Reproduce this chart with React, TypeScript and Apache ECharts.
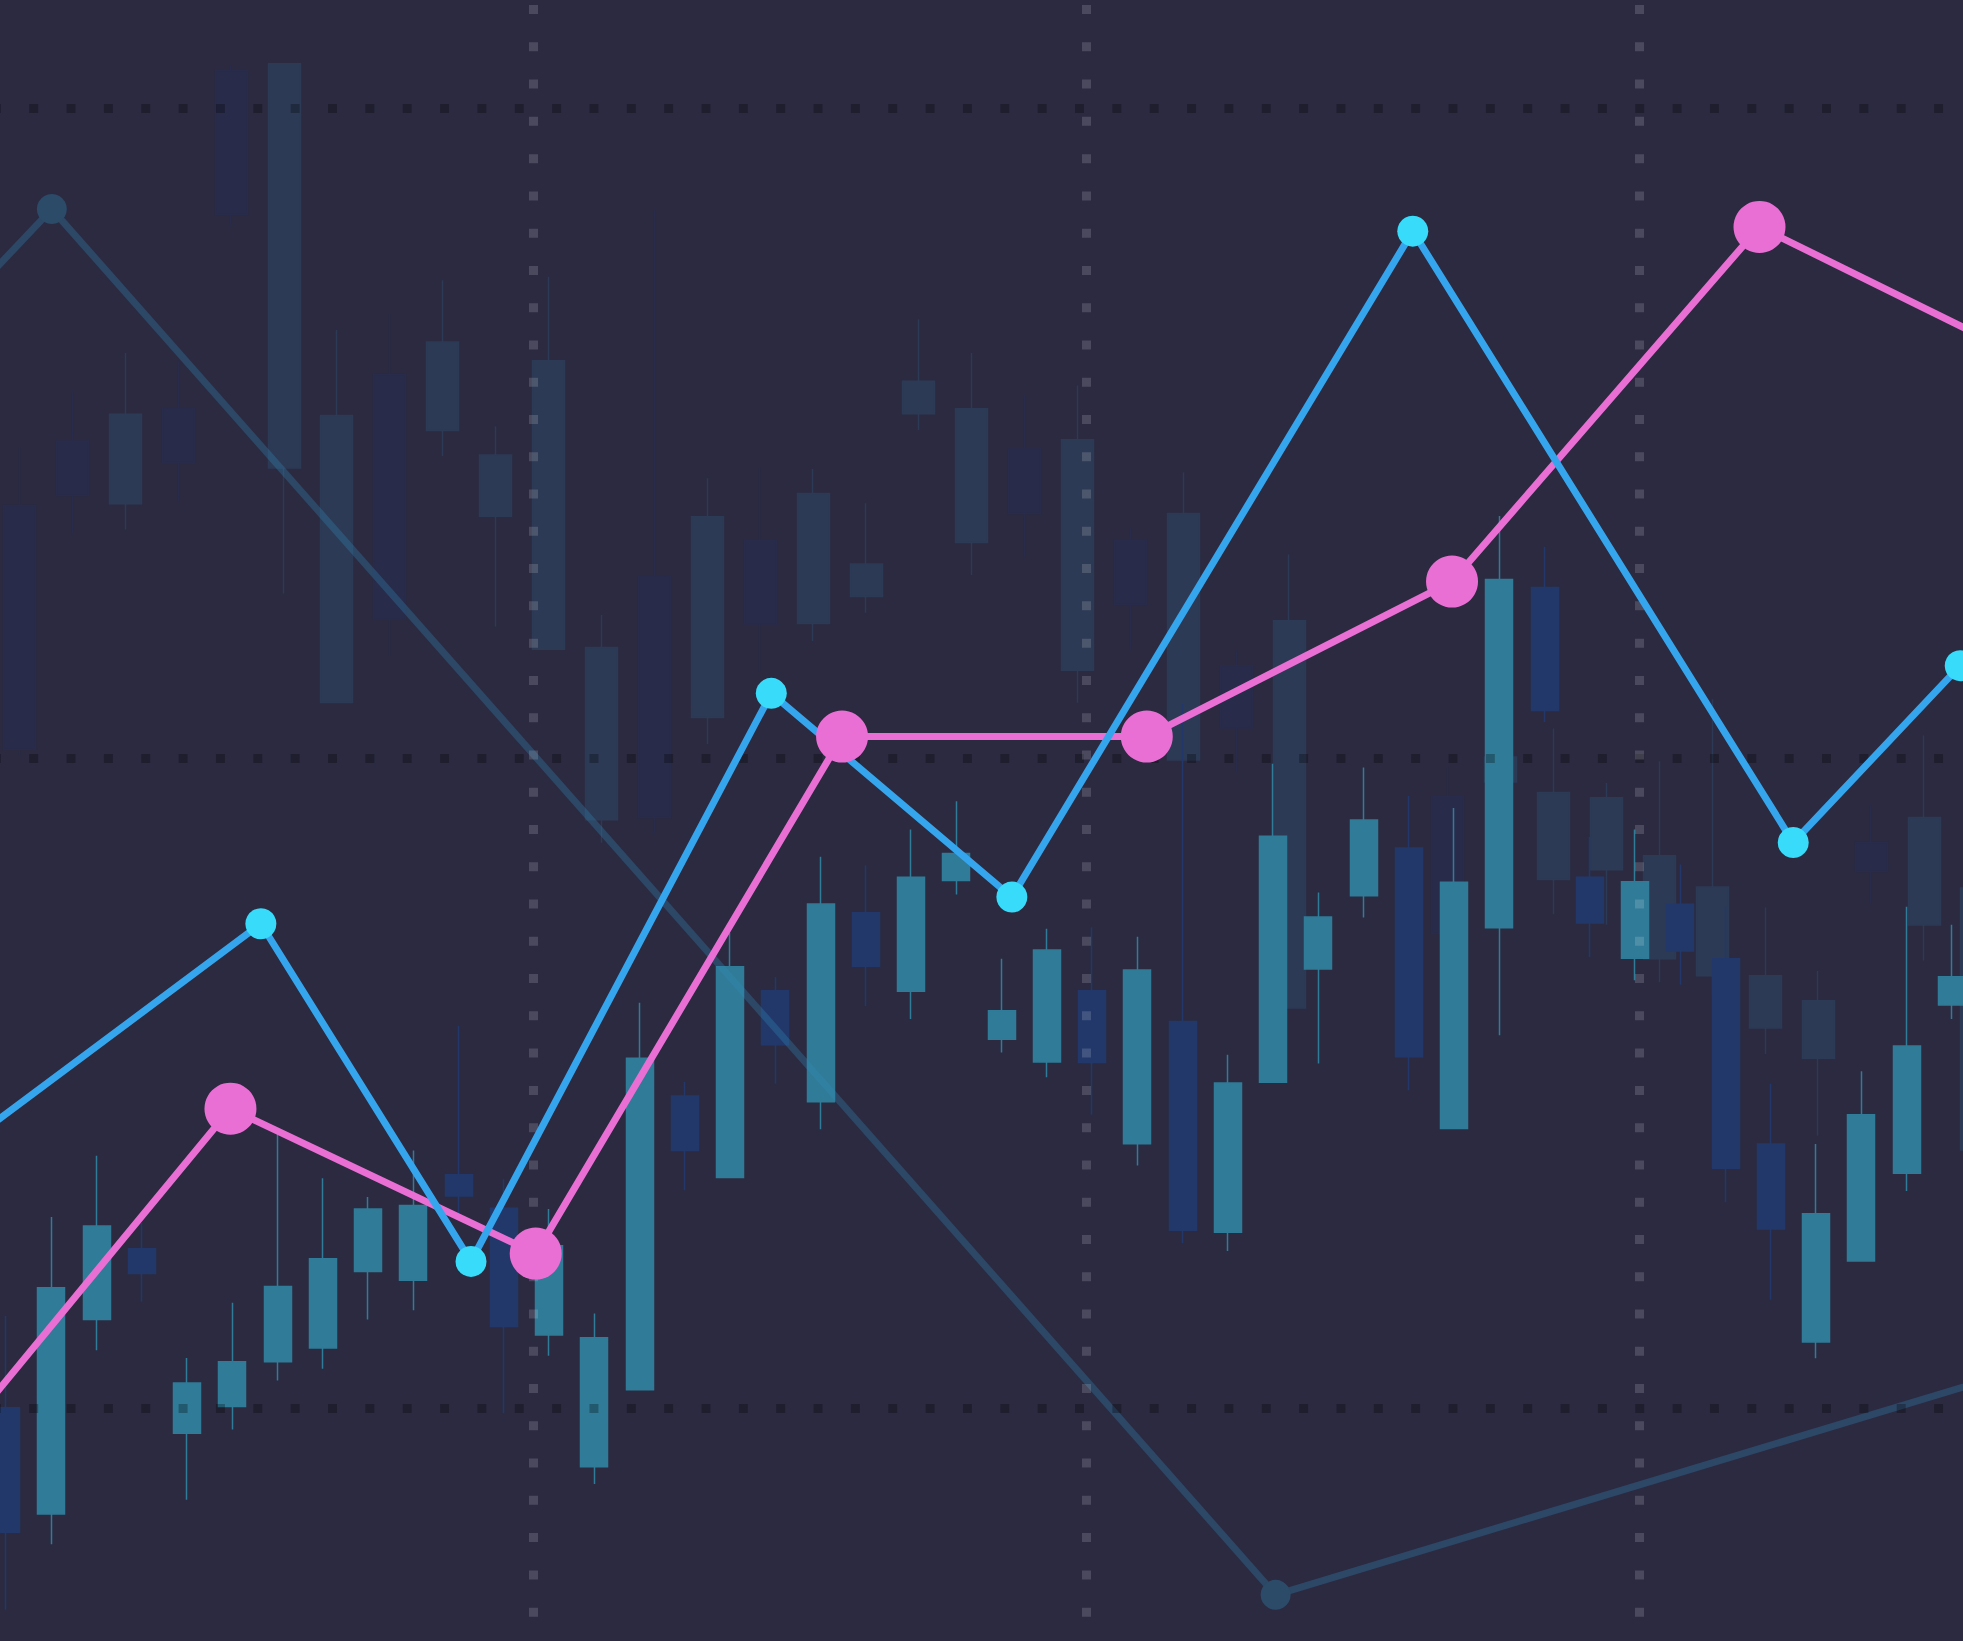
import React, { useEffect, useRef } from "react";
import * as echarts from "echarts";

const W = 1963;
const H = 1641;

// ---------- Foreground candles (open, close, low, high) ----------
const fgOpen = [20.01, 16.74, 22.72, 24.9, 19.22, 20.05, 21.42, 21.85, 24.2, 23.93, 27.18, 26.15, 22.25, 18.19, 20.56, 29.6, 27.09, 32.84, 29.42, 35.24, 32.82, 36.23, 31.35, 30.65, 32.84, 28.13, 31.89, 25.41, 30.02, 33.51, 35.76, 37.23, 28.6, 34.78, 45.25, 36.33, 33.84, 35.5, 33.82, 28.12, 22.03, 24.52, 27.22, 32.4];
const fgClose = [16.18, 23.7, 25.6, 24.14, 20.77, 21.42, 23.74, 24.59, 26.12, 26.23, 26.52, 22.51, 24.99, 22.16, 30.76, 27.92, 33.58, 31.18, 35.51, 33.59, 36.33, 37.06, 32.22, 34.09, 30.63, 33.48, 25.47, 30.0, 37.59, 35.11, 38.09, 30.81, 36.18, 45.49, 41.46, 34.92, 36.19, 34.06, 27.38, 25.51, 25.98, 29.02, 31.14, 33.27];
const fgLow = [13.79, 15.81, 21.78, 23.27, 17.18, 19.34, 20.85, 21.21, 22.72, 23.01, 25.84, 19.84, 21.61, 17.66, 20.56, 26.7, 27.09, 29.98, 28.58, 32.37, 31.97, 35.8, 30.94, 30.18, 29.02, 27.46, 25.07, 24.83, 30.02, 30.6, 35.09, 29.78, 28.6, 31.47, 41.11, 33.88, 33.16, 33.02, 26.33, 23.33, 21.53, 24.52, 26.68, 31.97];
const fgHigh = [22.83, 25.88, 27.76, 25.69, 21.54, 23.24, 28.42, 27.07, 26.49, 27.92, 31.76, 27.04, 26.12, 22.91, 32.47, 30.03, 34.62, 33.26, 36.96, 36.7, 37.8, 38.67, 33.82, 34.75, 34.79, 34.5, 41.66, 30.87, 39.82, 35.86, 39.71, 38.83, 38.46, 47.45, 46.5, 37.57, 37.8, 36.72, 35.43, 29.98, 28.12, 30.36, 35.42, 34.87];

// ---------- Background (faded) candles (open, close, low, high) ----------
const bgOpen = [47.77, 49.75, 47.82, 50.77, 61.15, 48.92, 41.71, 51.8, 50.08, 47.44, 43.35, 38.1, 45.6, 41.25, 46.7, 44.14, 44.97, 50.59, 46.63, 49.51, 42.7, 46.7, 39.94, 42.84, 32.31, null, null, 38.82, 39.26, 36.26, 36.56, 33.82, 33.3, 31.69, 30.76, 37.4, 34.86, 27.94];
const bgClose = [40.27, 48.08, 50.58, 49.1, 56.72, 61.36, 50.54, 44.28, 52.8, 49.32, 52.22, 43.4, 38.17, 47.42, 44.12, 48.14, 45.97, 51.59, 50.75, 47.52, 49.79, 44.72, 47.52, 40.92, 44.22, null, null, 34.61, 40.03, 38.94, 38.78, 36.99, 36.03, 33.3, 32.53, 36.51, 38.17, 36.0];
const bgLow = [40.09, 46.9, 47.03, 47.9, 56.4, 45.06, 41.71, 43.12, 49.29, 44.04, 43.35, 37.39, 37.69, 40.43, 42.67, 43.6, 44.47, 50.09, 45.63, 46.18, 41.7, 43.32, 39.94, 39.58, 32.31, null, null, 34.61, 38.7, 35.19, 34.87, 33.1, 32.69, 30.89, 28.38, 35.51, 33.77, 27.32];
const bgHigh = [49.57, 51.25, 52.46, 52.22, 61.32, 61.36, 53.17, 53.66, 54.7, 50.21, 54.81, 44.4, 56.86, 48.61, 48.92, 48.89, 47.84, 53.5, 52.46, 51.17, 51.46, 47.1, 48.79, 43.3, 46.26, null, null, 39.73, 40.4, 40.91, 39.23, 39.9, 41.81, 35.4, 33.45, 38.55, 40.69, 36.86];

// ---------- Lines ----------
const blueX = [-1, 5.07, 8.87, 14.3, 18.65, 25.9, 32.78, 35.8];
const blueY = [27.19, 34.9, 24.51, 41.99, 35.72, 56.21, 37.4, 42.84];
const pinkX = [-1, 4.52, 10.04, 15.58, 21.09, 26.61, 32.17, 37.69];
const pinkY = [17.82, 29.21, 24.75, 40.66, 40.66, 45.43, 56.34, 51.71];
const trendX = [-1, 1.29, 23.42, 40];
const trendY = [52.77, 56.89, 14.25, 22.78];

// ---------- Colours ----------
const BG = "#2B2A41";
const TEAL = "#307B97";
const NAVY = "#22386A";
const BG_UP = "#2D3A55";
const BG_DOWN = "#282B4A";
const BLUE_LINE = "#35A6EE";
const CYAN = "#38DCFA";
const PINK = "#EA6FD4";
const TREND_LINE = "rgba(50,140,190,0.3)";
const TREND_DOT = "#2C4B69";

const fgData = fgOpen.map((o, i) => [o, fgClose[i], fgLow[i], fgHigh[i]]);
const bgData = bgOpen.map((o, i) =>
  o == null ? ["-", "-", "-", "-"] : [o, bgClose[i], bgLow[i], bgHigh[i]]
);
const fgSessions = fgOpen.map((_, i) => "F" + (i + 1));
const bgSessions = bgOpen.map((_, i) => "B" + (i + 1));
const zip = (xs: number[], ys: number[]) => xs.map((x, i) => [x, ys[i]]);

const gridV = { top: -542, bottom: -417, containLabel: false, outerBoundsMode: "none" };

const hiddenY = (gridIndex: number) => ({
  type: "value",
  gridIndex,
  min: 0,
  max: 80,
  show: false,
  splitLine: { show: false },
});

const option: any = {
  animation: false,
  backgroundColor: BG,
  tooltip: { show: false },
  grid: [
    { left: -19.5, right: -229.5, ...gridV },
    { left: -6.85, right: -40.35, ...gridV },
    { left: -16.525, right: -11.475, ...gridV },
  ],
  xAxis: [
    {
      type: "value",
      gridIndex: 0,
      min: 0,
      max: 40,
      interval: 10,
      z: 4,
      axisLine: { show: false },
      axisTick: { show: false },
      axisLabel: { show: false },
      splitLine: {
        show: true,
        lineStyle: {
          color: "rgba(255,255,255,0.15)",
          width: 9,
          type: [9, 28.27],
          dashOffset: 12.15,
          cap: "butt",
        },
      },
    },
    { type: "category", gridIndex: 1, data: bgSessions, boundaryGap: true, show: false },
    { type: "category", gridIndex: 2, data: fgSessions, boundaryGap: true, show: false },
  ],
  yAxis: [
    {
      type: "value",
      gridIndex: 0,
      min: 0,
      max: 80,
      interval: 20,
      z: 4,
      axisLine: { show: false },
      axisTick: { show: false },
      axisLabel: { show: false },
      splitLine: {
        show: true,
        lineStyle: {
          color: "rgba(0,0,0,0.27)",
          width: 9,
          type: [9, 28.35],
          dashOffset: 26.1,
          cap: "butt",
        },
      },
    },
    hiddenY(1),
    hiddenY(2),
  ],
  series: [
    {
      type: "candlestick",
      xAxisIndex: 1,
      yAxisIndex: 1,
      z: 1,
      silent: true,
      barWidth: 32.5,
      itemStyle: {
        color: BG_UP,
        color0: BG_DOWN,
        borderColor: BG_UP,
        borderColor0: BG_DOWN,
        borderColorDoji: BG_UP,
        borderWidth: 1.5,
      },
      data: bgData,
    },
    {
      type: "candlestick",
      xAxisIndex: 2,
      yAxisIndex: 2,
      z: 2,
      silent: true,
      barWidth: 27.5,
      itemStyle: {
        color: TEAL,
        color0: NAVY,
        borderColor: TEAL,
        borderColor0: NAVY,
        borderColorDoji: TEAL,
        borderWidth: 1.5,
      },
      data: fgData,
    },
    {
      type: "line",
      xAxisIndex: 0,
      yAxisIndex: 0,
      z: 3,
      silent: true,
      symbol: "circle",
      symbolSize: 30,
      showAllSymbol: true,
      itemStyle: { color: TREND_DOT, borderWidth: 0 },
      lineStyle: { color: TREND_LINE, width: 7 },
      data: zip(trendX, trendY),
    },
    {
      type: "line",
      xAxisIndex: 0,
      yAxisIndex: 0,
      z: 5,
      silent: true,
      showSymbol: false,
      lineStyle: { color: PINK, width: 7 },
      data: zip(pinkX, pinkY),
    },
    {
      type: "line",
      xAxisIndex: 0,
      yAxisIndex: 0,
      z: 6,
      silent: true,
      symbol: "circle",
      symbolSize: 31,
      showAllSymbol: true,
      itemStyle: { color: CYAN, borderWidth: 0 },
      lineStyle: { color: BLUE_LINE, width: 7 },
      data: zip(blueX, blueY),
    },
    {
      type: "scatter",
      xAxisIndex: 0,
      yAxisIndex: 0,
      z: 7,
      silent: true,
      symbol: "circle",
      symbolSize: 52,
      itemStyle: { color: PINK, opacity: 1, borderWidth: 0 },
      data: zip(pinkX, pinkY),
    },
  ],
};

if (typeof document !== "undefined") {
  document.body.style.margin = "0";
  document.body.style.background = BG;
}

export default function App() {
  const ref = useRef<HTMLDivElement>(null);
  useEffect(() => {
    document.body.style.margin = "0";
    if (!ref.current) return;
    const chart = echarts.init(ref.current, undefined, { renderer: "svg", width: W, height: H });
    chart.setOption(option);
    return () => chart.dispose();
  }, []);
  return <div ref={ref} style={{ width: W, height: H, background: BG, overflow: "hidden" }} />;
}
